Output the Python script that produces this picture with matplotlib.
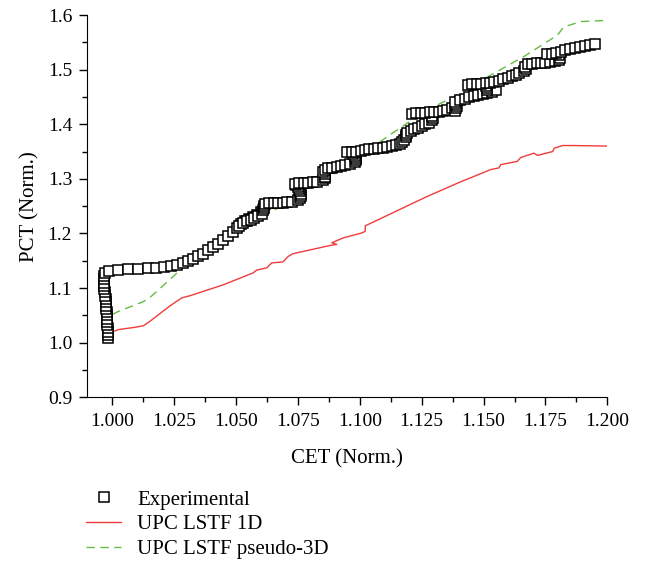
import matplotlib
matplotlib.use('Agg')
import matplotlib.pyplot as plt
from matplotlib.ticker import MultipleLocator, FormatStrFormatter

plt.rcParams['font.family'] = ['Liberation Serif', 'DejaVu Serif']

# experimental points (CET, PCT), normalised
exp_cet = [
    0.9982, 0.9982, 0.9981, 0.9981, 0.9980, 0.9980, 0.9979, 0.9978, 0.9977, 0.9976, 0.9975,
    0.9974, 0.9973, 0.9971, 0.9970, 0.9968, 0.9967, 0.9966, 0.9966, 0.9967, 0.9970,
    0.9985, 1.0025, 1.0065, 1.0105, 1.0143, 1.0178, 1.0210, 1.0238, 1.0262, 1.0284,
    1.0305, 1.0326, 1.0346, 1.0366, 1.0386, 1.0406, 1.0426, 1.0446, 1.0466,
    1.0486, 1.0505, 1.0521, 1.0537, 1.0553, 1.0569, 1.0585, 1.0600,
    1.0514, 1.0529, 1.0544, 1.0559, 1.0574, 1.0589, 1.0604,
    1.0609, 1.0612, 1.0614,
    1.0617, 1.0635, 1.0653, 1.0671, 1.0689, 1.0707, 1.0725,
    1.0752, 1.0759, 1.0762, 1.0762, 1.0759, 1.0755, 1.0749, 1.0742,
    1.0737, 1.0755, 1.0773, 1.0791, 1.0809, 1.0827,
    1.0850, 1.0858, 1.0860, 1.0858,
    1.0850, 1.0858, 1.0870, 1.0888, 1.0906, 1.0924, 1.0942, 1.0960,
    1.0979, 1.0984, 1.0984, 1.0979, 1.0971,
    1.0949, 1.0967, 1.0985, 1.1003, 1.1021, 1.1039, 1.1057, 1.1075, 1.1093, 1.1111,
    1.1129, 1.1147,
    1.1162, 1.1172, 1.1180, 1.1185, 1.1188, 1.1190,
    1.1205, 1.1220, 1.1235, 1.1250, 1.1265, 1.1280,
    1.1290, 1.1295, 1.1290,
    1.1210, 1.1228, 1.1246, 1.1264, 1.1282, 1.1300, 1.1318, 1.1336, 1.1354, 1.1372, 1.1388,
    1.1384, 1.1389, 1.1392, 1.1389, 1.1384,
    1.1406, 1.1424, 1.1442, 1.1460, 1.1478, 1.1496, 1.1514, 1.1532, 1.1551,
    1.1512, 1.1512, 1.1508,
    1.1436, 1.1454, 1.1472, 1.1490, 1.1508, 1.1526, 1.1544, 1.1562, 1.1580, 1.1598,
    1.1614, 1.1630, 1.1645,
    1.1665, 1.1670, 1.1668,
    1.1678, 1.1696, 1.1714, 1.1732, 1.1750, 1.1768, 1.1788,
    1.1803, 1.1808, 1.1806,
    1.1758, 1.1776, 1.1794, 1.1812, 1.1830, 1.1850, 1.1870, 1.1890, 1.1910, 1.1930, 1.1950,
]
exp_pct = [
    1.008, 1.014, 1.020, 1.026, 1.032, 1.038, 1.044, 1.050, 1.056, 1.062, 1.068,
    1.074, 1.080, 1.086, 1.092, 1.098, 1.104, 1.110, 1.116, 1.122, 1.128,
    1.131, 1.133, 1.134, 1.135, 1.136, 1.137, 1.139, 1.141, 1.143, 1.146,
    1.149, 1.153, 1.158, 1.163, 1.169, 1.175, 1.181, 1.188, 1.195,
    1.202, 1.210, 1.217, 1.222, 1.226, 1.230, 1.234, 1.239,
    1.214, 1.219, 1.222, 1.225, 1.229, 1.232, 1.236,
    1.243, 1.247, 1.251,
    1.254, 1.255, 1.255, 1.256, 1.256, 1.257, 1.258,
    1.261, 1.265, 1.269, 1.273, 1.277, 1.281, 1.285, 1.289,
    1.291, 1.292, 1.292, 1.293, 1.294, 1.295,
    1.298, 1.301, 1.304, 1.308,
    1.312, 1.316, 1.319, 1.320, 1.321, 1.323, 1.325, 1.327,
    1.330, 1.334, 1.338, 1.342, 1.346,
    1.349, 1.350, 1.350, 1.351, 1.352, 1.354, 1.355, 1.356, 1.357, 1.358,
    1.360, 1.362,
    1.364, 1.368, 1.372, 1.376, 1.380, 1.384,
    1.388, 1.391, 1.394, 1.397, 1.400, 1.403,
    1.407, 1.411, 1.415,
    1.419, 1.420, 1.421, 1.421, 1.422, 1.422, 1.423, 1.424, 1.426, 1.429, 1.433,
    1.425, 1.429, 1.433, 1.437, 1.441,
    1.445, 1.447, 1.449, 1.451, 1.453, 1.455, 1.457, 1.459, 1.462,
    1.462, 1.466, 1.470,
    1.472, 1.473, 1.473, 1.474, 1.475, 1.476, 1.478, 1.480, 1.482, 1.485,
    1.488, 1.491, 1.494,
    1.497, 1.501, 1.505,
    1.510, 1.511, 1.512, 1.512, 1.513, 1.514, 1.515,
    1.518, 1.522, 1.526,
    1.528, 1.529, 1.530, 1.533, 1.536, 1.538, 1.540, 1.542, 1.543, 1.545, 1.546,
]

# UPC LSTF 1D calculation
cet_1d = [0.9985, 0.9992, 1.0025, 1.0090, 1.0126, 1.0152, 1.0232, 1.0281, 1.0314, 1.0449,
          1.0570, 1.0584, 1.0624, 1.0644, 1.0690, 1.0711, 1.0731, 1.0880, 1.0907, 1.0887,
          1.0934, 1.1009, 1.1022, 1.1022, 1.1083, 1.1259, 1.1394, 1.1529, 1.1562, 1.1569,
          1.1636, 1.1650, 1.1703, 1.1718, 1.1779, 1.1785, 1.1819, 1.1859, 1.2000]
pct_1d = [1.003, 1.018, 1.024, 1.028, 1.031, 1.039, 1.067, 1.082, 1.086, 1.106,
          1.128, 1.133, 1.137, 1.146, 1.148, 1.158, 1.163, 1.178, 1.180, 1.183,
          1.192, 1.201, 1.204, 1.214, 1.227, 1.265, 1.292, 1.317, 1.320, 1.326,
          1.332, 1.339, 1.347, 1.343, 1.350, 1.356, 1.361, 1.361, 1.360]

# UPC LSTF pseudo-3D calculation
cet_3d = [0.9992, 0.9993, 1.0024, 1.0125, 1.0153, 1.0246, 1.0303, 1.0355, 1.0422, 1.0490,
          1.0570, 1.0745, 1.0853, 1.0989, 1.1123, 1.1258, 1.1393, 1.1529, 1.1663, 1.1798,
          1.1824, 1.1892, 1.2000]
pct_3d = [1.003, 1.050, 1.057, 1.075, 1.083, 1.121, 1.146, 1.158, 1.176, 1.195,
          1.219, 1.268, 1.295, 1.338, 1.381, 1.422, 1.454, 1.490, 1.524, 1.563,
          1.578, 1.588, 1.590]

fig = plt.figure(figsize=(6.48, 5.64), dpi=100)
ax = fig.add_axes([0.135, 0.2956, 0.8023, 0.6778])

ax.plot(cet_1d, pct_1d, color='#f03c3c', lw=1.0, label='UPC LSTF 1D')
ax.plot(cet_3d, pct_3d, color='#66bb44', lw=1.0, ls=(0, (6, 4)), label='UPC LSTF pseudo-3D')
ax.plot(exp_cet, exp_pct, ls='none', marker='s', ms=6.5, mfc='white', mec='black',
        mew=1.1, label='Experimental')

ax.set_xlim(0.99, 1.2)
ax.set_ylim(0.9, 1.6)
ax.xaxis.set_major_locator(MultipleLocator(0.025))
ax.xaxis.set_minor_locator(MultipleLocator(0.0125))
ax.xaxis.set_major_formatter(FormatStrFormatter('%.3f'))
ax.yaxis.set_major_locator(MultipleLocator(0.1))
ax.yaxis.set_minor_locator(MultipleLocator(0.05))
ax.yaxis.set_major_formatter(FormatStrFormatter('%.1f'))
ax.tick_params(which='major', direction='out', length=6, width=1, labelsize=14, pad=5)
ax.tick_params(which='minor', direction='out', length=3.5, width=1)

ax.spines['top'].set_visible(False)
ax.spines['right'].set_visible(False)

ax.set_xlabel('CET (Norm.)', fontsize=15, labelpad=14)
ax.set_ylabel('PCT (Norm.)', fontsize=15, labelpad=6)

handles, labels = ax.get_legend_handles_labels()
order = [2, 0, 1]
fig.legend([handles[i] for i in order], [labels[i] for i in order],
           loc='upper left', bbox_to_anchor=(0.1327, 0.131), frameon=False,
           fontsize=15, handlelength=1.7, handletextpad=0.75, labelspacing=0.25,
           borderpad=0, borderaxespad=0)

plt.savefig('out.png', dpi=100)
